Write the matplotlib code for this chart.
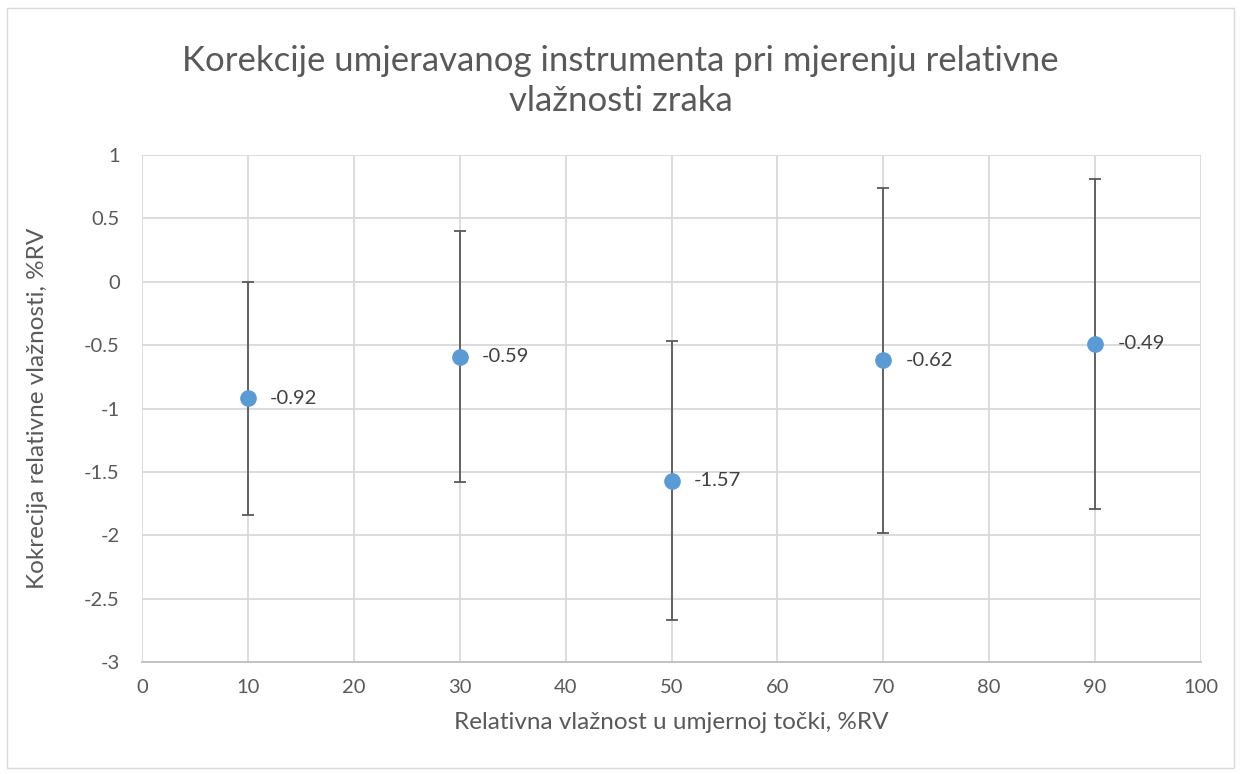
import matplotlib.pyplot as plt
from matplotlib.patches import Rectangle

# ======= DATA ==========
tocke = [10, 30, 50, 70, 90]
korekcija = [-0.92, -0.59, -1.57, -0.62, -0.49]
nesigurnost = [0.92, 0.99, 1.10, 1.36, 1.30]
oznake = ["-0.92", "-0.59", "-1.57", "-0.62", "-0.49"]
title = "Korekcije umjeravanog instrumenta pri mjerenju relativne\nvlažnosti zraka"
xlabel = "Relativna vlažnost u umjernoj točki, %RV"
ylabel = "Kokrecija relativne vlažnosti, %RV"
# =======================

plt.rcParams['font.family'] = ['Lato', 'DejaVu Sans']
plt.rcParams['axes.unicode_minus'] = False

tekst = "#595959"
mreza = "#d9d9d9"

fig = plt.figure(figsize=(12.41, 7.74), dpi=100)
ax = fig.add_axes([0.1144, 0.1447, 0.8534, 0.655])

ax.errorbar(tocke, korekcija, yerr=nesigurnost, fmt='o', color="#5B9BD5",
            markersize=11, ecolor="#595959", elinewidth=1.3, capsize=4,
            capthick=1.3, zorder=3)

for x, y, t in zip(tocke, korekcija, oznake):
    ax.annotate(t, (x, y), xytext=(16, 0), textcoords="offset points",
                va="center", ha="left", fontsize=14.5, color="#404040")

ax.set_xlim(0, 100)
ax.set_ylim(-3, 1)
ax.set_xticks(range(0, 101, 10))
ax.set_yticks([1, 0.5, 0, -0.5, -1, -1.5, -2, -2.5, -3])
ax.set_yticklabels(["1", "0.5", "0", "-0.5", "-1", "-1.5", "-2", "-2.5", "-3"])
ax.grid(True, color=mreza, linewidth=1.3)
ax.set_axisbelow(True)
for s in ["top", "right", "left"]:
    ax.spines[s].set_visible(False)
ax.spines["bottom"].set_color("#bfbfbf")
ax.spines["bottom"].set_linewidth(1.3)
ax.tick_params(length=0, labelsize=14.5, labelcolor=tekst)
ax.tick_params(axis="y", pad=16)
ax.tick_params(axis="x", pad=12)

ax.set_xlabel(xlabel, fontsize=17.5, color=tekst, labelpad=12)
ax.set_ylabel(ylabel, fontsize=17.5, color=tekst, labelpad=26)
fig.text(0.5, 0.895, title, ha="center", va="center", fontsize=25,
         color=tekst, linespacing=1.3)

# okvir grafikona
fig.add_artist(Rectangle((0.006, 0.008), 0.988, 0.982, transform=fig.transFigure,
                         fill=False, edgecolor="#d9d9d9", linewidth=1))

plt.savefig("out.png")
plt.close()
